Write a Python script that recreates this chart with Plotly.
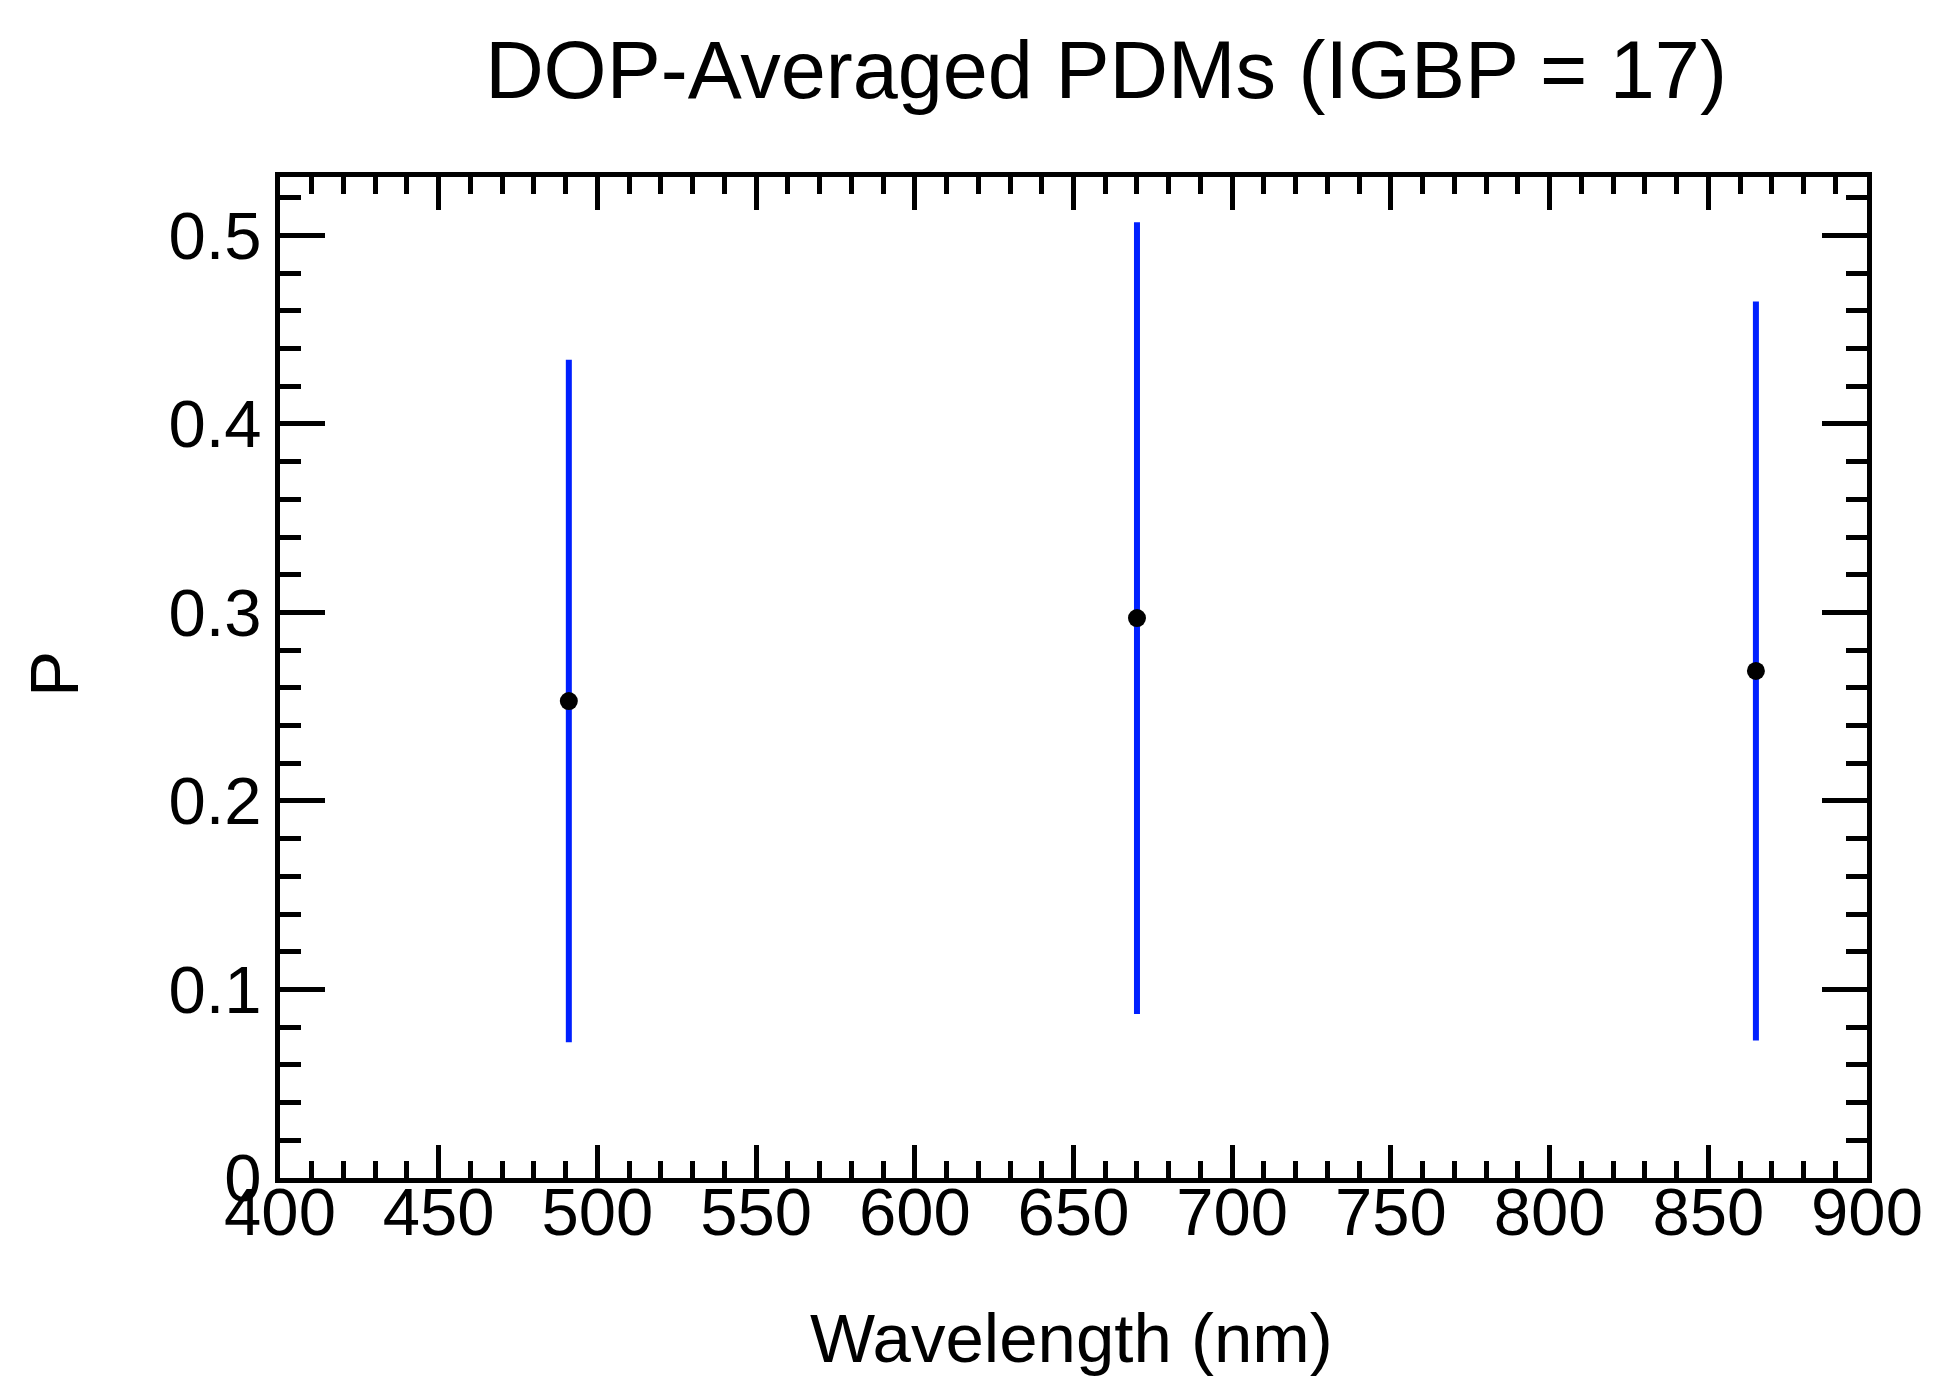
import plotly.graph_objects as go

# Wavelength bands and DOP-averaged polarization values
wavelength = [491, 670, 865]
p_mean = [0.253, 0.297, 0.269]
p_std = [0.181, 0.210, 0.196]

FONT = "Liberation Sans, Arial, Helvetica, sans-serif"

# plot frame in pixels (from the reference)
L, R, T, B = 272, 1859, 169, 1170
W, H = 1946, 1392

fig = go.Figure()

fig.add_trace(go.Scatter(
    x=wavelength,
    y=p_mean,
    mode='markers',
    marker=dict(color='black', size=18),
    error_y=dict(type='data', array=p_std, visible=True,
                 color='#0020ff', thickness=6, width=0),
    showlegend=False,
))

axis_common = dict(
    showline=True, linecolor='black', linewidth=5, mirror='allticks',
    ticks='inside', tickcolor='black', tickwidth=5,
    showgrid=False, zeroline=False,
    tickfont=dict(family=FONT, size=67, color='black'),
)

fig.update_xaxes(
    range=[400, 900], dtick=50, tick0=400, ticklen=33,
    ticklabelstandoff=-28,
    minor=dict(dtick=10, ticks='inside', ticklen=17, tickwidth=5, tickcolor='black', showgrid=False),
    **axis_common,
)
fig.update_yaxes(
    range=[0, 0.531], ticklen=45,
    tickvals=[0, 0.1, 0.2, 0.3, 0.4, 0.5],
    ticktext=['0', '0.1', '0.2', '0.3', '0.4', '0.5'],
    minor=dict(dtick=0.02, tick0=0, ticks='inside', ticklen=21, tickwidth=5, tickcolor='black', showgrid=False),
    **axis_common,
)

# axis titles placed as annotations for exact positioning
fig.add_annotation(
    text='Wavelength (nm)', xref='paper', yref='paper',
    x=(1063 - L) / (R - L), y=(B - 1330) / (B - T),
    xanchor='center', yanchor='middle', showarrow=False,
    font=dict(family=FONT, size=69, color='black'),
)
fig.add_annotation(
    text='P', xref='paper', yref='paper',
    x=(46 - L) / (R - L), y=(B - 666) / (B - T),
    xanchor='center', yanchor='middle', textangle=-90, showarrow=False,
    font=dict(family=FONT, size=69, color='black'),
)

fig.update_layout(
    width=W, height=H,
    margin=dict(l=L, r=W - R, t=T, b=H - B),
    paper_bgcolor='white', plot_bgcolor='white',
    title=dict(text='DOP-Averaged PDMs (IGBP = 17)',
               font=dict(family=FONT, size=81, color='black'),
               x=1098 / W, xanchor='center', y=1 - 62 / H, yanchor='middle'),
)

fig.write_html("out.html")
